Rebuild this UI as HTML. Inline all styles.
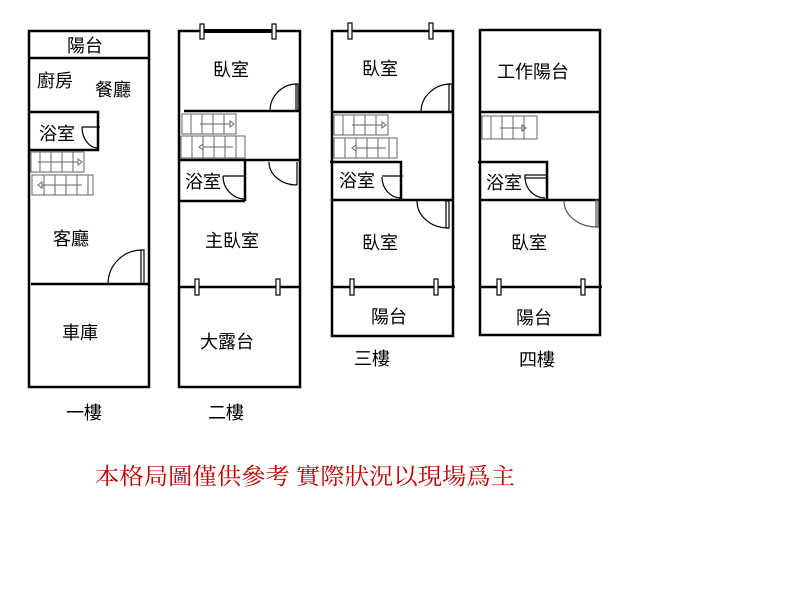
<!DOCTYPE html>
<html><head><meta charset="utf-8"><style>
html,body{margin:0;padding:0;background:#fff;}
svg{display:block}
text{font-family:"Liberation Sans","Noto Sans CJK TC",sans-serif;font-size:18px;fill:#000}
</style></head><body>
<svg width="800" height="600" viewBox="0 0 800 600" xmlns="http://www.w3.org/2000/svg">
<g stroke="#000" stroke-width="2.5" fill="none">
<rect x="29" y="31" width="120" height="356"/>
<line x1="29" y1="58" x2="149" y2="58"/>
<polyline points="29,112 98,112 98,150 29,150"/>
<line x1="31" y1="284" x2="148" y2="284"/>
<rect x="179" y="31" width="121" height="356"/>
<line x1="201" y1="31" x2="275" y2="31" stroke-width="4"/>
<line x1="184" y1="111" x2="300" y2="111"/>
<line x1="180" y1="160" x2="300" y2="160"/>
<line x1="245" y1="160" x2="245" y2="201"/>
<line x1="179" y1="201" x2="245" y2="201"/>
<line x1="179" y1="287" x2="300" y2="287"/>
<rect x="332" y="31" width="121" height="305"/>
<line x1="332" y1="112" x2="453" y2="112"/>
<polyline points="330,162 401,162 401,200"/>
<line x1="332" y1="200" x2="453" y2="200"/>
<line x1="332" y1="287" x2="455" y2="287"/>
<rect x="480" y="30" width="120" height="305"/>
<line x1="480" y1="112" x2="600" y2="112"/>
<polyline points="478,162 547,162 547,200"/>
<line x1="480" y1="200" x2="600" y2="200"/>
<line x1="480" y1="287" x2="602" y2="287"/>
</g>
<g fill="#fff" stroke="#000" stroke-width="1.2">
<rect x="200" y="24" width="4" height="15"/><rect x="272" y="24" width="4" height="15"/>
<rect x="195" y="279" width="4" height="16"/><rect x="276" y="279" width="4" height="16"/>
<rect x="348" y="23" width="4" height="16"/><rect x="429" y="23" width="4" height="16"/>
<rect x="350" y="279" width="4" height="16"/><rect x="434" y="279" width="4" height="16"/>
<rect x="497" y="279" width="4" height="16"/><rect x="581" y="279" width="4" height="16"/>
</g>
<g fill="none" stroke="#000" stroke-width="1.2">
<path d="M108,284 A34,34 0 0 1 142,250"/><rect x="141" y="250" width="3" height="34"/>
<path d="M82,127 A16,21 0 0 0 98,148"/><line x1="82" y1="127" x2="100" y2="127"/>
<path d="M270,111 A27,27 0 0 1 297,84"/><rect x="296" y="84" width="2" height="27"/>
<path d="M269,162 A28,23 0 0 0 297,185"/><line x1="297" y1="162" x2="297" y2="185"/>
<path d="M223,176 A22,23 0 0 0 245,199"/><line x1="223" y1="176" x2="244" y2="176"/>
<path d="M421,112 A30,28 0 0 1 451,84"/><rect x="449" y="84" width="3" height="28"/>
<path d="M382,177 A19,21 0 0 0 401,198"/><line x1="382" y1="176" x2="403" y2="176"/>
<path d="M417,201 A31,27 0 0 0 448,228"/><rect x="446" y="201" width="3" height="27"/>
<path d="M525,177 A20,21 0 0 0 545,198"/><rect x="525" y="175" width="22" height="3"/>
<path d="M564,201 A33,26 0 0 0 597,227" stroke="#555"/><rect x="596" y="200" width="2" height="27" stroke="#555"/>
</g>
<g fill="none" stroke="#666" stroke-width="1">
<path d="M31,152h53v20h-53zM40,152v20M51,152v20M62,152v20M73,152v20"/><path d="M38,162h40" /><path d="M78,159l4,3-4,3z"/>
<path d="M32,175h61v20h-61zM44,175v20M55,175v20M66,175v20M77,175v20M88,175v20"/><path d="M42,185h40"/><path d="M42,182l-4,3 4,3z"/>
<path d="M182,114h54v20h-54zM191,114v20M202,114v20M213,114v20M224,114v20"/><path d="M200,124h30"/><path d="M230,121l4,3-4,3z"/>
<path d="M181,136h64v22h-64zM192,136v22M203,136v22M214,136v22M225,136v22M236,136v22"/><path d="M203,147h30"/><path d="M203,144l-4,3 4,3z"/>
<path d="M334,115h54v20h-54zM343,115v20M354,115v20M365,115v20M376,115v20"/><path d="M352,125h30"/><path d="M382,122l4,3-4,3z"/>
<path d="M334,138h63v20h-63zM345,138v20M356,138v20M367,138v20M378,138v20M389,138v20"/><path d="M356,148h30"/><path d="M356,145l-4,3 4,3z"/>
<path d="M482,116h55v23h-55zM491,116v23M502,116v23M513,116v23M524,116v23"/><path d="M500,128h22"/><path d="M522,125l4,3-4,3z"/>
</g>
<text x="67" y="52">陽台</text>
<text x="37" y="87">廚房</text>
<text x="95" y="96">餐廳</text>
<text x="39" y="140">浴室</text>
<text x="53" y="245">客廳</text>
<text x="62" y="339">車庫</text>
<text x="84" y="419" text-anchor="middle">一樓</text>
<text x="213" y="76">臥室</text>
<text x="185" y="188">浴室</text>
<text x="205" y="247">主臥室</text>
<text x="200" y="348">大露台</text>
<text x="226" y="419" text-anchor="middle">二樓</text>
<text x="362" y="75">臥室</text>
<text x="339" y="187">浴室</text>
<text x="362" y="249">臥室</text>
<text x="371" y="323">陽台</text>
<text x="372" y="365" text-anchor="middle">三樓</text>
<text x="497" y="78">工作陽台</text>
<text x="486" y="189">浴室</text>
<text x="511" y="249">臥室</text>
<text x="516" y="324">陽台</text>
<text x="537" y="366" text-anchor="middle">四樓</text>
<text x="95" y="484" style="font-family:'Liberation Serif','Noto Serif CJK SC',serif;font-size:23px;fill:#c00000" textLength="420" lengthAdjust="spacingAndGlyphs">本格局圖僅供參考 實際狀況以現場爲主</text>
</svg>
</body></html>
